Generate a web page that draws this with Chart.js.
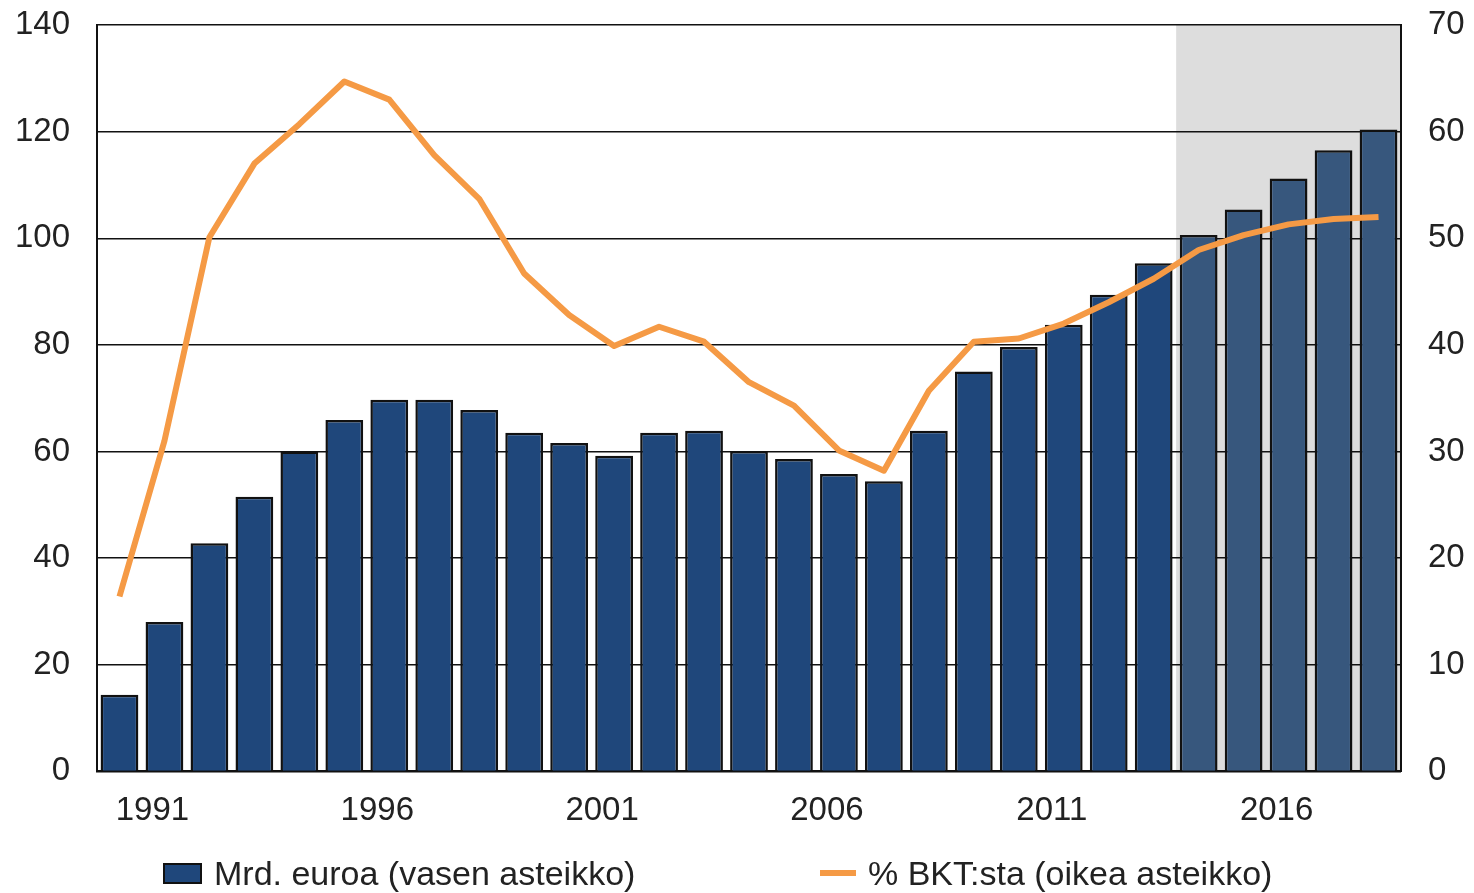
<!DOCTYPE html>
<html>
<head>
<meta charset="utf-8">
<script src="https://cdn.jsdelivr.net/npm/chart.js@4.4.1/dist/chart.umd.min.js"></script>
<style>
  body { margin: 0; background: #fff; font-family: "Liberation Sans", Arial, sans-serif; }
  #wrap { position: relative; width: 1474px; height: 893px; }
  #legend { position: absolute; left: 0; top: 0; width: 1474px; height: 893px; pointer-events: none; color: #222; font-size: 34px; }
  .lg-box { position: absolute; left: 163px; top: 863px; width: 35px; height: 17px; background: #1f477b; border: 2px solid #111; }
  .lg-line { position: absolute; left: 820px; top: 870px; width: 36px; height: 6px; background: #f59a45; }
  .lg-text { position: absolute; top: 853px; line-height: 40px; white-space: nowrap; }
</style>
</head>
<body>
<div id="wrap">
  <canvas id="chart" width="1474" height="893"></canvas>
  <div id="legend">
    <div class="lg-box"></div>
    <div class="lg-text" style="left:214px">Mrd. euroa (vasen asteikko)</div>
    <div class="lg-line"></div>
    <div class="lg-text" style="left:868px">% BKT:sta (oikea asteikko)</div>
  </div>
</div>
<script>
const years = ["1990", "1991", "1992", "1993", "1994", "1995", "1996", "1997", "1998", "1999",
  "2000", "2001", "2002", "2003", "2004", "2005", "2006", "2007", "2008", "2009",
  "2010", "2011", "2012", "2013", "2014", "2015", "2016", "2017", "2018"];

// billion euro, left axis
const debtBn = [14.4, 28.0, 42.8, 51.5, 60.0, 65.9, 69.7, 69.7, 67.8, 63.5,
  61.6, 59.2, 63.5, 63.9, 60.1, 58.6, 55.8, 54.4, 63.9, 75.0,
  79.6, 83.8, 89.4, 95.3, 100.6, 105.4, 111.2, 116.5, 120.4];

// % of GDP, right axis
const debtPct = [16.4, 31.0, 50.1, 57.0, 60.7, 64.7, 63.0, 57.8, 53.7, 46.7,
  42.8, 39.9, 41.7, 40.3, 36.5, 34.3, 30.1, 28.2, 35.7, 40.3,
  40.6, 42.0, 44.0, 46.2, 48.9, 50.3, 51.3, 51.8, 52.0];

const forecastFrom = "2014";
const labelEvery = 5;
const labelStart = 1991;

const darkBar = "#1f477b";
const forecastBar = "#37577d";
const barColors = years.map(y => (+y >= +forecastFrom ? forecastBar : darkBar));

const tickFont = { family: "'Liberation Sans', Arial, sans-serif", size: 33 };

// grey background behind forecast years
const forecastShade = {
  id: "forecastShade",
  beforeDraw(chart) {
    const { ctx, chartArea, scales } = chart;
    const idx = years.indexOf(forecastFrom);
    const x0 = (scales.x.getPixelForValue(idx - 1) + scales.x.getPixelForValue(idx)) / 2;
    ctx.save();
    ctx.fillStyle = "#dddddd";
    ctx.fillRect(x0, chartArea.top, chartArea.right - x0, chartArea.bottom - chartArea.top);
    ctx.restore();
  }
};

new Chart(document.getElementById("chart"), {
  type: "bar",
  data: {
    labels: years,
    datasets: [
      {
        type: "line",
        label: "% BKT:sta (oikea asteikko)",
        data: debtPct,
        yAxisID: "y1",
        borderColor: "#f59a45",
        borderWidth: 6,
        pointRadius: 0,
        tension: 0,
        borderJoinStyle: "round",
        order: 0
      },
      {
        label: "Mrd. euroa (vasen asteikko)",
        data: debtBn,
        yAxisID: "y",
        backgroundColor: barColors,
        borderColor: "#111",
        borderWidth: 2.5,
        barPercentage: 0.84,
        categoryPercentage: 1,
        order: 1
      }
    ]
  },
  options: {
    responsive: false,
    animation: false,
    layout: { padding: { top: 25, bottom: 42, left: 0, right: 0 } },
    plugins: {
      legend: { display: false },
      tooltip: { enabled: false }
    },
    scales: {
      x: {
        grid: { display: false, drawTicks: false },
        border: { color: "#111", width: 2 },
        ticks: {
          color: "#222",
          font: tickFont,
          padding: 20,
          labelOffset: -12,
          autoSkip: false,
          maxRotation: 0,
          callback: function (val, i) {
            const yr = +years[i];
            return (yr - labelStart) % labelEvery === 0 ? years[i] : "";
          }
        }
      },
      y: {
        position: "left",
        min: 0,
        max: 140,
        ticks: { stepSize: 20, color: "#222", font: tickFont, padding: 27 },
        grid: { color: "#111", lineWidth: 1.5, drawTicks: false },
        border: { color: "#111", width: 2 },
        afterFit(scale) { scale.width = 97; scale.paddingTop = 0; scale.paddingBottom = 0; }
      },
      y1: {
        position: "right",
        min: 0,
        max: 70,
        ticks: { stepSize: 10, color: "#222", font: tickFont, padding: 27 },
        grid: { display: false, drawTicks: false },
        border: { color: "#111", width: 2 },
        afterFit(scale) { scale.width = 73; scale.paddingTop = 0; scale.paddingBottom = 0; }
      }
    }
  },
  plugins: [forecastShade]
});
</script>
</body>
</html>
